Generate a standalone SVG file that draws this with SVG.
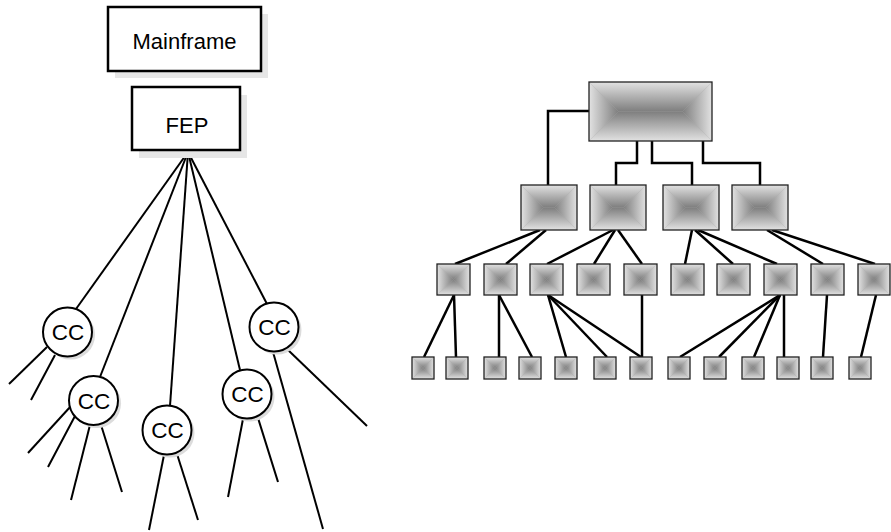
<svg xmlns="http://www.w3.org/2000/svg" xmlns:xlink="http://www.w3.org/1999/xlink" width="891" height="532" viewBox="0 0 891 532">
<style>
.bx{fill:#fff;stroke:#000;stroke-width:2.5}
.sh{fill:#e6e6e6}
.csh{fill:#dcdcdc}
.cc{fill:#fff;stroke:#000;stroke-width:2}
.t{font-family:"Liberation Sans",Arial,sans-serif;font-size:22px;fill:#000;text-anchor:middle}
.tc{font-family:"Liberation Sans",Arial,sans-serif;font-size:22.5px;fill:#000;text-anchor:middle}
.ln{stroke:#000;stroke-width:2;fill:none;stroke-linecap:butt}
.rl{stroke:#000;stroke-width:2.5;fill:none}
.pb{fill:none;stroke:#222;stroke-width:1.3}
.pbg{fill:#acacac}
</style>
<defs>
<linearGradient id="gT" x1="0" y1="0" x2="0" y2="1"><stop offset="0" stop-color="#e2e2e2"/><stop offset="1" stop-color="#7e7e7e"/></linearGradient>
<linearGradient id="gB" x1="0" y1="1" x2="0" y2="0"><stop offset="0" stop-color="#e2e2e2"/><stop offset="1" stop-color="#7e7e7e"/></linearGradient>
<linearGradient id="gL" x1="0" y1="0" x2="1" y2="0"><stop offset="0" stop-color="#e2e2e2"/><stop offset="1" stop-color="#7e7e7e"/></linearGradient>
<linearGradient id="gR" x1="1" y1="0" x2="0" y2="0"><stop offset="0" stop-color="#e2e2e2"/><stop offset="1" stop-color="#7e7e7e"/></linearGradient>
<symbol id="sq" viewBox="0 0 100 100" preserveAspectRatio="none">
<rect class="pbg" width="100" height="100"/>
<polygon points="0,0 100,0 50,50" fill="url(#gT)"/>
<polygon points="0,100 100,100 50,50" fill="url(#gB)"/>
<polygon points="0,0 50,50 0,100" fill="url(#gL)"/>
<polygon points="100,0 50,50 100,100" fill="url(#gR)"/>
</symbol>
<symbol id="mid" viewBox="0 0 56 45" preserveAspectRatio="none">
<rect class="pbg" width="56" height="45"/>
<polygon points="0,0 56,0 33.5,22.5 22.5,22.5" fill="url(#gT)"/>
<polygon points="0,45 56,45 33.5,22.5 22.5,22.5" fill="url(#gB)"/>
<polygon points="0,0 22.5,22.5 0,45" fill="url(#gL)"/>
<polygon points="56,0 33.5,22.5 56,45" fill="url(#gR)"/>
</symbol>
<symbol id="big" viewBox="0 0 123 59" preserveAspectRatio="none">
<rect class="pbg" width="123" height="59"/>
<polygon points="0,0 123,0 93.5,29.5 29.5,29.5" fill="url(#gT)"/>
<polygon points="0,59 123,59 93.5,29.5 29.5,29.5" fill="url(#gB)"/>
<polygon points="0,0 29.5,29.5 0,59" fill="url(#gL)"/>
<polygon points="123,0 93.5,29.5 123,59" fill="url(#gR)"/>
</symbol>
</defs>
<rect width="891" height="532" fill="#fff"/>

<g id="connectors">
<line class="ln" x1="188" y1="152" x2="76" y2="309"/>
<line class="ln" x1="188" y1="152" x2="100" y2="377"/>
<line class="ln" x1="188" y1="152" x2="170" y2="406"/>
<line class="ln" x1="188" y1="152" x2="240" y2="370"/>
<line class="ln" x1="188" y1="152" x2="267" y2="304"/>
<line class="ln" x1="47" y1="347" x2="9" y2="384"/>
<line class="ln" x1="55" y1="355" x2="31" y2="400"/>
<line class="ln" x1="71" y1="406" x2="28" y2="453"/>
<line class="ln" x1="75" y1="416" x2="48" y2="467"/>
<line class="ln" x1="90" y1="425" x2="71" y2="500"/>
<line class="ln" x1="101" y1="425" x2="122" y2="492"/>
<line class="ln" x1="164" y1="455" x2="149" y2="530"/>
<line class="ln" x1="177" y1="454" x2="198" y2="520"/>
<line class="ln" x1="243" y1="419" x2="228" y2="497"/>
<line class="ln" x1="258" y1="418" x2="278" y2="482"/>
<line class="ln" x1="273" y1="352" x2="323" y2="529"/>
<line class="ln" x1="287" y1="349" x2="367" y2="426"/>

<polyline class="rl" points="589,111 548,111 548,185"/>
<polyline class="rl" points="637,141 637,163 616,163 616,185"/>
<polyline class="rl" points="652,141 652,163 692,163 692,185"/>
<polyline class="rl" points="703,141 703,163 760,163 760,185"/>

<line class="rl" x1="540" y1="230" x2="455" y2="264"/>
<line class="rl" x1="546" y1="230" x2="506" y2="264"/>
<line class="rl" x1="613" y1="230" x2="547" y2="264"/>
<line class="rl" x1="615" y1="230" x2="594" y2="264"/>
<line class="rl" x1="618" y1="230" x2="642" y2="264"/>
<line class="rl" x1="692" y1="230" x2="685" y2="264"/>
<line class="rl" x1="695" y1="230" x2="733" y2="264"/>
<line class="rl" x1="698" y1="230" x2="777" y2="264"/>
<line class="rl" x1="767" y1="230" x2="823" y2="264"/>
<line class="rl" x1="772" y1="230" x2="875" y2="264"/>

<line class="rl" x1="454" y1="295" x2="424" y2="357"/>
<line class="rl" x1="454" y1="295" x2="456" y2="357"/>
<line class="rl" x1="499" y1="295" x2="499" y2="357"/>
<line class="rl" x1="499" y1="295" x2="532" y2="357"/>
<line class="rl" x1="548" y1="295" x2="566" y2="357"/>
<line class="rl" x1="548" y1="295" x2="607" y2="357"/>
<line class="rl" x1="548" y1="295" x2="641" y2="357"/>
<line class="rl" x1="642" y1="295" x2="642" y2="357"/>
<line class="rl" x1="780" y1="295" x2="680" y2="357"/>
<line class="rl" x1="780" y1="295" x2="719" y2="357"/>
<line class="rl" x1="780" y1="295" x2="754" y2="357"/>
<line class="rl" x1="784" y1="295" x2="784" y2="357"/>
<line class="rl" x1="827" y1="295" x2="823" y2="357"/>
<line class="rl" x1="876" y1="295" x2="861" y2="357"/>
</g>

<g id="mainframe">
<rect class="sh" x="115" y="14" width="153" height="64"/>
<rect class="bx" x="108" y="7" width="153" height="64"/>
<text class="t" x="184.5" y="49">Mainframe</text>
</g>
<g id="fep">
<rect class="sh" x="139" y="95" width="108" height="63"/>
<rect class="bx" x="132" y="87" width="108" height="63"/>
<text class="t" x="187" y="133">FEP</text>
</g>

<g id="cc1"><circle class="csh" cx="70.5" cy="335" r="24.5"/><circle class="cc" cx="67.5" cy="332" r="24.5"/><text class="tc" x="68" y="340">CC</text></g>
<g id="cc2"><circle class="csh" cx="96.5" cy="403.5" r="24.5"/><circle class="cc" cx="93.5" cy="400.5" r="24.5"/><text class="tc" x="94" y="408.5">CC</text></g>
<g id="cc3"><circle class="csh" cx="170" cy="433" r="24.5"/><circle class="cc" cx="167" cy="430" r="24.5"/><text class="tc" x="167.5" y="438">CC</text></g>
<g id="cc4"><circle class="csh" cx="250" cy="397" r="24.5"/><circle class="cc" cx="247" cy="394" r="24.5"/><text class="tc" x="247.5" y="402">CC</text></g>
<g id="cc5"><circle class="csh" cx="277" cy="330" r="24.5"/><circle class="cc" cx="274" cy="327" r="24.5"/><text class="tc" x="274.5" y="335">CC</text></g>

<g id="top"><use href="#big" x="589" y="82" width="123" height="59"/><rect class="pb" x="589" y="82" width="123" height="59"/></g>

<g id="r1a"><use href="#mid" x="521" y="185" width="56" height="45"/><rect class="pb" x="521" y="185" width="56" height="45"/></g>
<g id="r1b"><use href="#mid" x="590" y="185" width="56" height="45"/><rect class="pb" x="590" y="185" width="56" height="45"/></g>
<g id="r1c"><use href="#mid" x="663" y="185" width="56" height="45"/><rect class="pb" x="663" y="185" width="56" height="45"/></g>
<g id="r1d"><use href="#mid" x="732" y="185" width="56" height="45"/><rect class="pb" x="732" y="185" width="56" height="45"/></g>

<g id="r2a"><use href="#sq" x="437" y="264" width="33" height="31"/><rect class="pb" x="437" y="264" width="33" height="31"/></g>
<g id="r2b"><use href="#sq" x="484" y="264" width="33" height="31"/><rect class="pb" x="484" y="264" width="33" height="31"/></g>
<g id="r2c"><use href="#sq" x="530" y="264" width="33" height="31"/><rect class="pb" x="530" y="264" width="33" height="31"/></g>
<g id="r2d"><use href="#sq" x="577" y="264" width="33" height="31"/><rect class="pb" x="577" y="264" width="33" height="31"/></g>
<g id="r2e"><use href="#sq" x="624" y="264" width="33" height="31"/><rect class="pb" x="624" y="264" width="33" height="31"/></g>
<g id="r2f"><use href="#sq" x="671" y="264" width="33" height="31"/><rect class="pb" x="671" y="264" width="33" height="31"/></g>
<g id="r2g"><use href="#sq" x="717" y="264" width="33" height="31"/><rect class="pb" x="717" y="264" width="33" height="31"/></g>
<g id="r2h"><use href="#sq" x="764" y="264" width="33" height="31"/><rect class="pb" x="764" y="264" width="33" height="31"/></g>
<g id="r2i"><use href="#sq" x="811" y="264" width="33" height="31"/><rect class="pb" x="811" y="264" width="33" height="31"/></g>
<g id="r2j"><use href="#sq" x="858" y="264" width="32" height="31"/><rect class="pb" x="858" y="264" width="32" height="31"/></g>

<g id="r3a"><use href="#sq" x="412" y="357" width="22" height="22"/><rect class="pb" x="412" y="357" width="22" height="22"/></g>
<g id="r3b"><use href="#sq" x="446" y="357" width="22" height="22"/><rect class="pb" x="446" y="357" width="22" height="22"/></g>
<g id="r3c"><use href="#sq" x="484" y="357" width="22" height="22"/><rect class="pb" x="484" y="357" width="22" height="22"/></g>
<g id="r3d"><use href="#sq" x="519" y="357" width="22" height="22"/><rect class="pb" x="519" y="357" width="22" height="22"/></g>
<g id="r3e"><use href="#sq" x="555" y="357" width="22" height="22"/><rect class="pb" x="555" y="357" width="22" height="22"/></g>
<g id="r3f"><use href="#sq" x="594" y="357" width="22" height="22"/><rect class="pb" x="594" y="357" width="22" height="22"/></g>
<g id="r3g"><use href="#sq" x="630" y="357" width="22" height="22"/><rect class="pb" x="630" y="357" width="22" height="22"/></g>
<g id="r3h"><use href="#sq" x="668" y="357" width="22" height="22"/><rect class="pb" x="668" y="357" width="22" height="22"/></g>
<g id="r3i"><use href="#sq" x="704" y="357" width="22" height="22"/><rect class="pb" x="704" y="357" width="22" height="22"/></g>
<g id="r3j"><use href="#sq" x="742" y="357" width="22" height="22"/><rect class="pb" x="742" y="357" width="22" height="22"/></g>
<g id="r3k"><use href="#sq" x="777" y="357" width="22" height="22"/><rect class="pb" x="777" y="357" width="22" height="22"/></g>
<g id="r3l"><use href="#sq" x="811" y="357" width="22" height="22"/><rect class="pb" x="811" y="357" width="22" height="22"/></g>
<g id="r3m"><use href="#sq" x="849" y="357" width="22" height="22"/><rect class="pb" x="849" y="357" width="22" height="22"/></g>
</svg>
